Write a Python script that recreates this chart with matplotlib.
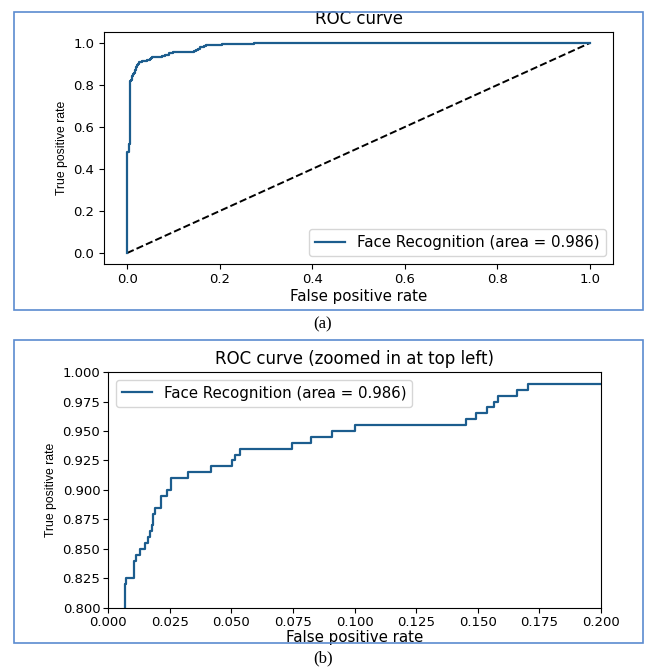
import matplotlib
matplotlib.use("Agg")
import matplotlib.pyplot as plt
from matplotlib.patches import Rectangle

# =========================================================
# DATA
# =========================================================

# ROC corner points: at each fpr the curve jumps up to the tpr value
fpr = [0.0, 0.0, 0.0030, 0.0068, 0.0074, 0.0105, 0.0112, 0.0128, 0.0151,
       0.0162, 0.0169, 0.0178, 0.0182, 0.0192, 0.0216, 0.0239, 0.0257,
       0.0324, 0.0419, 0.0504, 0.0514, 0.0534, 0.0747, 0.0824, 0.0909,
       0.1000, 0.1453, 0.1493, 0.1536, 0.1567, 0.1581, 0.1659, 0.1703,
       0.2060, 0.2740, 1.0]
tpr = [0.0, 0.48, 0.52, 0.820, 0.825, 0.840, 0.845, 0.850, 0.855,
       0.860, 0.865, 0.870, 0.880, 0.885, 0.895, 0.900, 0.910,
       0.915, 0.920, 0.925, 0.930, 0.935, 0.940, 0.945, 0.950,
       0.955, 0.960, 0.965, 0.970, 0.975, 0.980, 0.985, 0.990,
       0.995, 1.0, 1.0]
roc_auc = 0.986
label = f"Face Recognition (area = {roc_auc:.3f})"

chance = [0, 1]

zoom_xticks = [0.000, 0.025, 0.050, 0.075, 0.100, 0.125, 0.150, 0.175, 0.200]
zoom_yticks = [0.800, 0.825, 0.850, 0.875, 0.900, 0.925, 0.950, 0.975, 1.000]

# =========================================================
# FIGURE
# =========================================================

CURVE_COLOR = "#1c5d8e"
BORDER_COLOR = "#5b8bd0"
TICK_SIZE = 9.5
TEXT_SIZE = 10.8
YLAB = dict(fontsize=8.8, family="Liberation Sans")

fig = plt.figure(figsize=(6.46, 6.71), dpi=100)

# panel frames + captions
for y0, h in [(0.538, 0.444), (0.0417, 0.4516)]:
    fig.patches.append(Rectangle((0.0217, y0), 0.9737, h, transform=fig.transFigure,
                                 fill=False, edgecolor=BORDER_COLOR, linewidth=1.2))
fig.text(0.5, 0.517, "(a)", ha="center", va="center", fontsize=12, family="Liberation Serif")
fig.text(0.5, 0.019, "(b)", ha="center", va="center", fontsize=12, family="Liberation Serif")

# ---------------- (a) full ROC ----------------
ax1 = fig.add_axes([0.161, 0.6073, 0.788, 0.3443])
ax1.plot(chance, chance, "k--", lw=1.4)
ax1.step(fpr, tpr, where="post", color=CURVE_COLOR, lw=1.6, label=label)
ax1.set_title("ROC curve", fontsize=12)
ax1.set_xlabel("False positive rate", fontsize=TEXT_SIZE, labelpad=2)
ax1.set_ylabel("True positive rate", **YLAB)
ax1.tick_params(labelsize=TICK_SIZE)
ax1.legend(loc="lower right", fontsize=TEXT_SIZE)

# ---------------- (b) zoomed ROC ----------------
ax2 = fig.add_axes([0.1672, 0.0939, 0.7632, 0.3517])
ax2.plot(chance, chance, "k--", lw=1.4)
ax2.step(fpr, tpr, where="post", color=CURVE_COLOR, lw=1.6, label=label)
ax2.set_xlim(0, 0.2)
ax2.set_ylim(0.8, 1)
ax2.set_xticks(zoom_xticks)
ax2.set_yticks(zoom_yticks)
ax2.set_title("ROC curve (zoomed in at top left)", fontsize=12)
ax2.set_xlabel("False positive rate", fontsize=TEXT_SIZE, labelpad=1)
ax2.set_ylabel("True positive rate", **YLAB)
ax2.tick_params(labelsize=TICK_SIZE, pad=2)
ax2.legend(loc="upper left", fontsize=TEXT_SIZE)

fig.savefig("out.png", dpi=100)
